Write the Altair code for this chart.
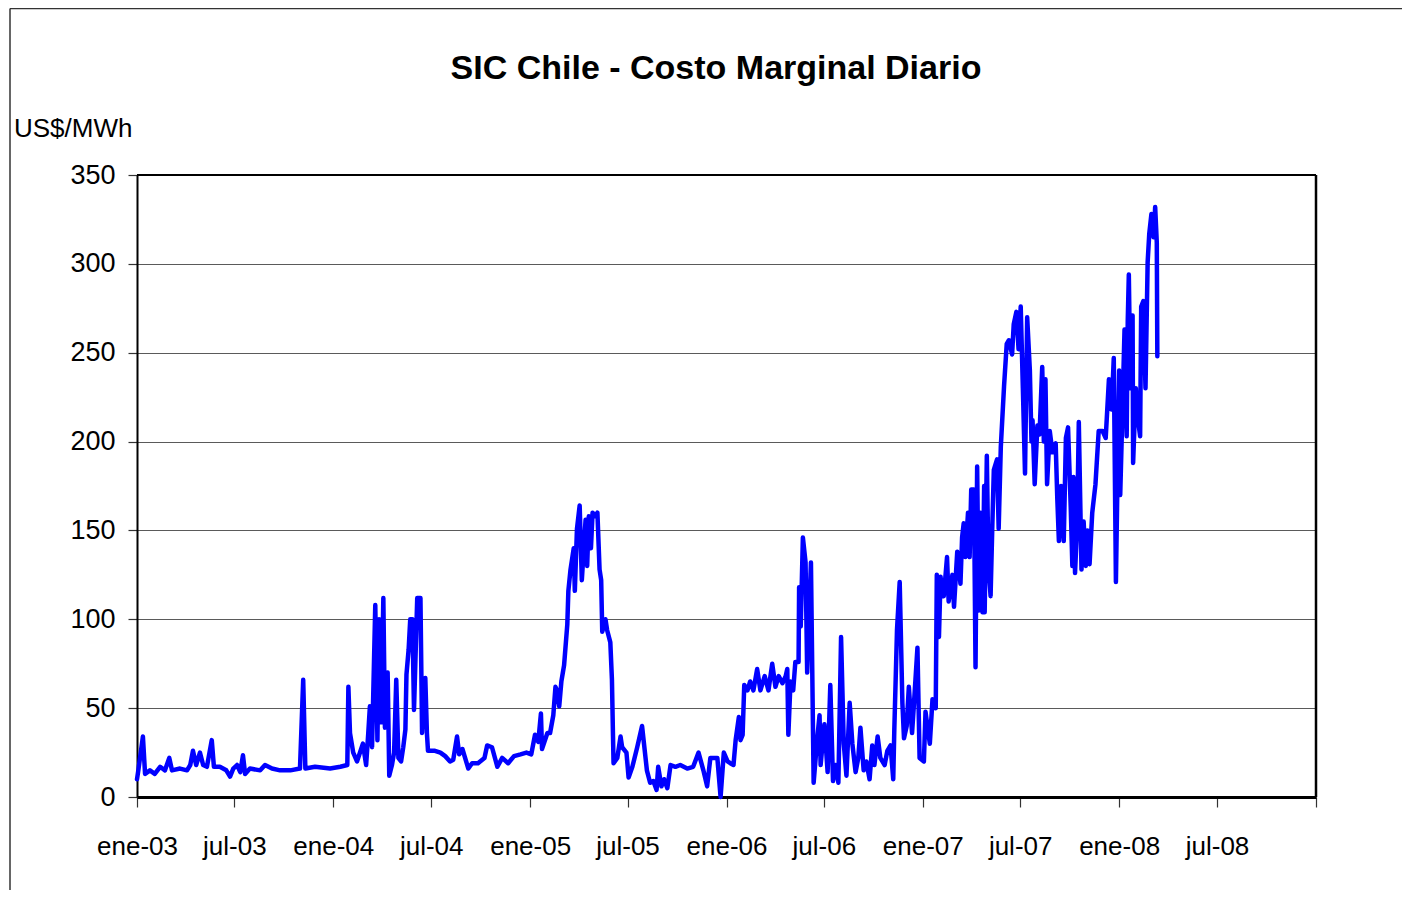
import altair as alt
import pandas as pd

START = "2003-01-01"

# days since 2003-01-01 and daily marginal cost (US$/MWh)
day_offsets = [
    0, 2, 11, 15, 24, 33, 43, 52, 60, 65, 80, 93, 99, 104, 110, 117, 123, 130, 139, 143,
    154, 166, 173, 179, 186, 192, 197, 201, 210, 229, 238, 251, 266, 285, 303, 309, 313, 331, 359,
    378, 391, 393, 396, 402, 409, 420, 426, 430, 433, 437, 443, 447, 450, 454, 458, 461, 466, 469,
    474, 478, 482, 486, 491, 495, 499, 501, 505, 508, 512, 515, 521, 527, 530, 532, 536, 539, 541,
    554, 564, 573, 582, 588, 595, 599, 605, 610, 616, 623, 634, 646, 651, 660, 670, 679, 690, 701,
    713, 724,
    733, 740, 746, 751, 753, 763, 768, 774, 778, 781, 785, 789, 794, 800, 802, 806, 812, 814, 818,
    823, 827, 834, 837, 840, 844, 847, 852, 856, 860, 863, 865, 871, 874, 880, 883, 885, 886, 893,
    899, 902, 910, 914, 921, 930, 939, 948, 954, 960, 966, 969, 975, 980, 986, 992, 1001, 1010,
    1023, 1034, 1044, 1053, 1060, 1066, 1079, 1085,
    1091, 1098, 1103, 1109, 1113, 1119, 1122, 1126, 1129, 1135, 1140, 1146, 1153, 1159, 1167, 1174,
    1181, 1187, 1193, 1200, 1206, 1209, 1211, 1215, 1220, 1224, 1230, 1231, 1234, 1238, 1243, 1246,
    1253, 1258, 1265, 1269, 1271, 1278, 1284, 1289, 1294, 1299, 1304, 1309, 1314, 1319, 1325, 1330,
    1336, 1341, 1345, 1351, 1356, 1362, 1367, 1371, 1377, 1382, 1390, 1395, 1401, 1406, 1408, 1413,
    1418, 1423, 1426, 1431, 1435, 1441, 1444, 1451, 1455,
    1463, 1466, 1474, 1479, 1485, 1487, 1491, 1494, 1497, 1500, 1506, 1509, 1516, 1519, 1525, 1531,
    1534, 1537, 1540, 1545, 1548, 1551, 1556, 1559, 1562, 1565, 1568, 1572, 1575, 1576, 1580, 1583,
    1587, 1590, 1593, 1599, 1602, 1606, 1612, 1617, 1621, 1627, 1630, 1635, 1639, 1643, 1647, 1651,
    1655, 1660, 1663, 1665, 1669, 1674, 1678, 1683, 1686, 1689, 1692, 1697, 1702, 1708, 1711, 1714,
    1718, 1723, 1727, 1731, 1736, 1739, 1741, 1744, 1748, 1751, 1756, 1760, 1764, 1767, 1771, 1776,
    1782, 1788, 1795, 1801, 1807, 1812, 1816, 1820,
    1826, 1828, 1832, 1836, 1840, 1842, 1844, 1847, 1851, 1852, 1857, 1860, 1865, 1867, 1871, 1875,
    1879, 1882, 1886, 1890, 1893, 1896, 1897,
]

cost_usd_mwh = [
    10, 14, 34, 13, 15, 13, 17, 15, 22, 15, 16, 15, 18, 26, 18, 25, 18, 17, 32, 17,
    17, 15, 11.5, 16, 18, 14, 23.5, 13, 16, 15, 18, 16, 15, 15, 16, 66, 16, 17, 16,
    17, 18, 62, 36, 25, 20, 30, 18, 36, 51, 28, 108, 32, 100, 42, 112, 39, 70, 12,
    18, 25, 66, 22, 20, 28, 38, 69, 83, 100, 100, 49, 112, 112, 36, 50, 67, 36, 26,
    26, 25, 23, 20, 21, 34, 24, 27, 22, 16, 19, 19, 22, 29, 28, 17, 22, 19, 23,
    24, 25,
    24, 35, 31, 47, 27, 36, 36, 46, 62, 60, 51, 65, 74, 97, 116, 128, 140, 116, 151,
    164, 122, 156, 130, 158, 140, 160, 158, 160, 128, 122, 93, 100, 94, 87, 66, 34, 19, 22,
    34, 28, 25, 11, 17, 28, 40, 15, 8, 9, 4, 17, 6, 10, 5, 18, 17, 18,
    16, 17, 25, 15, 6, 22, 22, 0,
    25, 20, 19, 18, 32, 45, 32, 35, 63, 60, 65, 60, 72, 60, 68, 60,
    75, 62, 68, 64, 68, 72, 35, 65, 60, 76, 76, 118, 96, 146, 132, 70,
    132, 8, 34, 46, 18, 41, 14, 63, 9, 18, 8, 90, 30, 12, 53, 30,
    14, 22, 39, 15, 20, 10, 29, 18, 34, 22, 18, 26, 29, 10, 38, 94,
    121, 53, 33, 40, 62, 36, 50, 84, 22,
    20, 48, 30, 55, 50, 125, 90, 124, 113, 113, 135, 110, 125, 107, 138, 120,
    146, 154, 135, 160, 135, 173, 173, 73, 186, 105, 160, 104, 175, 104, 192, 130,
    113, 150, 184, 190, 151, 197, 231, 255, 257, 249, 266, 273, 252, 276, 230, 182,
    270, 240, 200, 212, 176, 209, 204, 242, 200, 235, 176, 206, 194, 199, 168, 144,
    175, 144, 202, 208, 163, 130, 180, 126, 154, 211, 128, 155, 130, 150, 131, 160,
    176, 206, 206, 202, 235, 218, 247, 121,
    240, 170, 216, 263, 203, 268, 294, 230, 271, 188, 230, 215, 203, 276, 279, 230,
    301, 317, 328, 315, 332, 312, 248,
]

tick_years = [2003, 2003, 2004, 2004, 2005, 2005, 2006, 2006, 2007, 2007, 2008, 2008, 2009]
tick_months = [1, 7, 1, 7, 1, 7, 1, 7, 1, 7, 1, 7, 1]
tick_labels = ["ene-03", "jul-03", "ene-04", "jul-04", "ene-05", "jul-05", "ene-06",
               "jul-06", "ene-07", "jul-07", "ene-08", "jul-08", ""]
y_ticks = [0, 50, 100, 150, 200, 250, 300, 350]

chart_title = "SIC Chile - Costo Marginal Diario"
unit_label = "US$/MWh"

dates = pd.Timestamp(START) + pd.to_timedelta(day_offsets, unit="D")
df = pd.DataFrame({"fecha": dates, "costo": cost_usd_mwh})

tick_values = [alt.DateTime(year=y, month=m, date=1) for y, m in zip(tick_years, tick_months)]
label_array = "[" + ",".join("'" + t + "'" for t in tick_labels) + "]"
label_expr = label_array + "[round((year(datum.value)-2003)*2 + month(datum.value)/6)]"

FONT = "Liberation Sans"
W, H = 1179, 622

line = alt.Chart(df).mark_line(
    color="#0000FF", strokeWidth=4.5, strokeJoin="round", strokeCap="round"
).encode(
    x=alt.X(
        "fecha:T",
        scale=alt.Scale(
            domain=[alt.DateTime(year=2003, month=1, date=1), alt.DateTime(year=2009, month=1, date=1)],
            nice=False,
        ),
        axis=alt.Axis(
            title="",
            values=tick_values,
            labelExpr=label_expr,
            labelFont=FONT,
            labelFontSize=26,
            labelColor="black",
            labelPadding=26,
            labelFlush=False,
            labelOverlap=False,
            labelBound=False,
            tickSize=10,
            tickColor="#333333",
            tickWidth=1.2,
            domainColor="black",
            domainWidth=3,
            grid=False,
        ),
    ),
    y=alt.Y(
        "costo:Q",
        scale=alt.Scale(domain=[0, 350], nice=False),
        axis=alt.Axis(
            title="",
            values=y_ticks,
            labelFont=FONT,
            labelFontSize=27,
            labelColor="black",
            labelPadding=13,
            tickSize=9,
            tickColor="#333333",
            tickWidth=1.2,
            domainColor="black",
            domainWidth=2,
            grid=True,
            gridColor="#5a5a5a",
            gridWidth=1.2,
        ),
    ),
)

title_text = alt.Chart(pd.DataFrame({"t": [chart_title]})).mark_text(
    font=FONT,
    fontSize=34,
    fontWeight="bold",
    color="black",
    align="center",
    baseline="alphabetic",
).encode(text="t:N", x=alt.value(579), y=alt.value(-96))

unit_text = alt.Chart(pd.DataFrame({"t": [unit_label]})).mark_text(
    font=FONT,
    fontSize=26,
    color="black",
    align="left",
    baseline="alphabetic",
).encode(text="t:N", x=alt.value(-123), y=alt.value(-38))

frame_df = pd.DataFrame({"k": [1]})
frame_top = alt.Chart(frame_df).mark_rule(color="#333333", strokeWidth=1.5).encode(
    x=alt.value(-127), x2=alt.value(1265), y=alt.value(-166.5)
)
frame_left = alt.Chart(frame_df).mark_rule(color="#333333", strokeWidth=1.5).encode(
    x=alt.value(-127), y=alt.value(-166.5), y2=alt.value(715)
)
plot_top = alt.Chart(frame_df).mark_rule(color="black", strokeWidth=2).encode(
    x=alt.value(0), x2=alt.value(W), y=alt.value(0)
)
plot_right = alt.Chart(frame_df).mark_rule(color="black", strokeWidth=2.5).encode(
    x=alt.value(W), y=alt.value(0), y2=alt.value(H)
)

chart = alt.layer(line, plot_top, plot_right, title_text, unit_text, frame_top, frame_left).properties(
    width=W,
    height=H,
    autosize=alt.AutoSizeParams(type="none"),
    padding={"left": 129, "top": 167, "right": 86, "bottom": 93},
).configure_view(
    stroke="black", strokeWidth=2
).configure(background="white")

chart.save("out.html", embed_options={"renderer": "svg", "actions": False})
